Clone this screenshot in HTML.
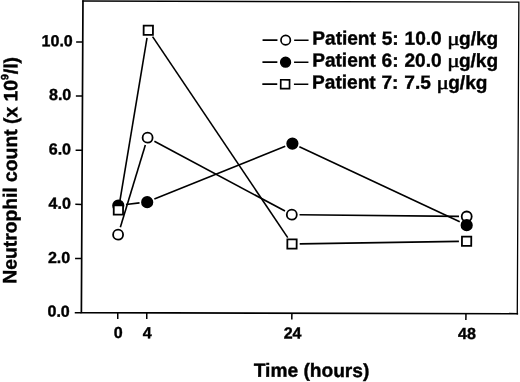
<!DOCTYPE html>
<html lang="en">
<head>
<meta charset="utf-8">
<title>Neutrophil count vs time</title>
<style>
html,body{margin:0;padding:0;background:#fff;}
body{width:520px;height:382px;overflow:hidden;}
svg{display:block;}
text{font-family:"Liberation Sans",Arial,Helvetica,sans-serif;font-weight:bold;fill:#000;stroke:#000;stroke-width:0.4px;}
.tl{font-size:16px;}
.lt{font-size:19.05px;word-spacing:0.6px;}
.at{font-size:19.15px;}
.mu{font-family:"Liberation Serif","DejaVu Serif",serif;font-weight:normal;font-size:19px;stroke-width:0.45px;}
.fr{fill:none;stroke:#000;stroke-width:1.7;stroke-linecap:square;}
.fr2{fill:none;stroke:#000;stroke-width:1.3;stroke-linecap:square;}
.tk{stroke:#000;stroke-width:1.5;}
.ln line{stroke:#000;stroke-width:1.6;}
.mk circle,.mk rect{stroke:#000;stroke-width:1.8;}
.ll{stroke:#000;stroke-width:1.6;}
.lm{stroke:#000;stroke-width:1.7;}
</style>
</head>
<body>
<svg width="520" height="382" viewBox="0 0 520 382">
<rect x="0" y="0" width="520" height="382" fill="#fff"/>
<g transform="matrix(1 0.0027 -0.0051 1 0.9741 -0.7020)">
<path class="fr2" d="M82.00 1.50 H517.90 V313.05"/>
<path class="fr" d="M82.00 1.50 V313.05 H517.90"/>
<line class="tk" x1="75.40" y1="313.15" x2="82.00" y2="313.15"/>
<text class="tl" text-anchor="end" x="70.40" y="317.20">0.0</text>
<line class="tk" x1="75.40" y1="259.01" x2="82.00" y2="259.01"/>
<text class="tl" text-anchor="end" x="70.50" y="263.51">2.0</text>
<line class="tk" x1="75.40" y1="204.87" x2="82.00" y2="204.87"/>
<text class="tl" text-anchor="end" x="70.90" y="209.22">4.0</text>
<line class="tk" x1="75.40" y1="150.73" x2="82.00" y2="150.73"/>
<text class="tl" text-anchor="end" x="70.80" y="155.08">6.0</text>
<line class="tk" x1="75.40" y1="96.59" x2="82.00" y2="96.59"/>
<text class="tl" text-anchor="end" x="70.80" y="100.64">8.0</text>
<line class="tk" x1="75.40" y1="42.45" x2="82.00" y2="42.45"/>
<text class="tl" text-anchor="end" x="72.00" y="46.80">10.0</text>
<line class="tk" x1="118.40" y1="313.05" x2="118.40" y2="319.35"/>
<text class="tl" text-anchor="middle" x="119.00" y="338.5">0</text>
<line class="tk" x1="147.41" y1="313.05" x2="147.41" y2="319.35"/>
<text class="tl" text-anchor="middle" x="147.91" y="338.5">4</text>
<line class="tk" x1="292.48" y1="313.05" x2="292.48" y2="319.35"/>
<text class="tl" text-anchor="middle" x="293.38" y="338.5">24</text>
<line class="tk" x1="466.55" y1="313.05" x2="466.55" y2="319.35"/>
<text class="tl" text-anchor="middle" x="467.75" y="338.5">48</text>
<g class="ln">
<line x1="120.53" y1="227.71" x2="145.12" y2="145.38"/><line x1="154.13" y1="141.61" x2="285.12" y2="211.01"/><line x1="299.62" y1="214.67" x2="459.13" y2="215.88"/>
<line x1="126.02" y1="204.86" x2="139.61" y2="203.23"/><line x1="154.39" y1="199.40" x2="285.03" y2="146.22"/><line x1="299.14" y1="146.56" x2="459.89" y2="221.20"/>
<line x1="119.72" y1="202.68" x2="146.25" y2="38.10"/><line x1="151.80" y1="36.87" x2="287.95" y2="237.54"/><line x1="299.97" y1="243.77" x2="459.16" y2="240.79"/>
</g>
<g class="mk">
<circle cx="118.32" cy="235.08" r="5.00" fill="#fff"/>
<circle cx="147.33" cy="138.00" r="5.00" fill="#fff"/>
<circle cx="291.92" cy="214.61" r="5.00" fill="#fff"/>
<circle cx="466.83" cy="215.94" r="5.00" fill="#fff"/>
<circle cx="118.37" cy="205.98" r="5.20" fill="#000"/>
<circle cx="147.26" cy="202.50" r="5.20" fill="#000"/>
<circle cx="292.16" cy="143.51" r="5.20" fill="#000"/>
<circle cx="466.87" cy="224.64" r="5.20" fill="#000"/>
<rect x="113.85" y="205.63" width="9.30" height="9.30" fill="#fff"/>
<rect x="142.83" y="25.85" width="9.30" height="9.30" fill="#fff"/>
<rect x="287.62" y="239.26" width="9.30" height="9.30" fill="#fff"/>
<rect x="462.21" y="235.99" width="9.30" height="9.30" fill="#fff"/>
</g>
<line class="ll" x1="261.8" y1="40.10" x2="276.7" y2="40.10"/>
<line class="ll" x1="293.4" y1="40.10" x2="307.8" y2="40.10"/>
<circle class="lm" cx="284.9" cy="40.10" r="4.7" fill="#fff"/>
<text class="lt" x="311.6" y="44.40">Patient 5: 10.0</text>
<text class="mu" transform="translate(446.60 44.40) scale(1.22 1)">μ</text>
<text class="lt" x="458.30" y="44.40">g/kg</text>
<line class="ll" x1="261.8" y1="62.10" x2="276.7" y2="62.10"/>
<line class="ll" x1="293.4" y1="62.10" x2="307.8" y2="62.10"/>
<circle class="lm" cx="284.9" cy="62.10" r="4.8" fill="#000"/>
<text class="lt" x="311.6" y="66.40">Patient 6: 20.0</text>
<text class="mu" transform="translate(446.60 66.40) scale(1.22 1)">μ</text>
<text class="lt" x="458.30" y="66.40">g/kg</text>
<line class="ll" x1="261.8" y1="84.10" x2="276.7" y2="84.10"/>
<line class="ll" x1="293.4" y1="84.10" x2="307.8" y2="84.10"/>
<rect class="lm" x="280.2" y="79.70" width="8.8" height="8.8" fill="#fff"/>
<text class="lt" x="311.6" y="88.40">Patient 7: 7.5</text>
<text class="mu" transform="translate(436.00 88.40) scale(1.22 1)">μ</text>
<text class="lt" x="447.70" y="88.40">g/kg</text>
<text class="at" x="254.7" y="376.7">Time (hours)</text>
<text class="at" style="font-size:19.3px" transform="translate(16.8 284.4) rotate(-90)">Neutrophil count (x 10<tspan dy="-9.0" font-size="10.5">9</tspan><tspan dy="9.0">/l)</tspan></text>
</g>
</svg>
</body>
</html>
